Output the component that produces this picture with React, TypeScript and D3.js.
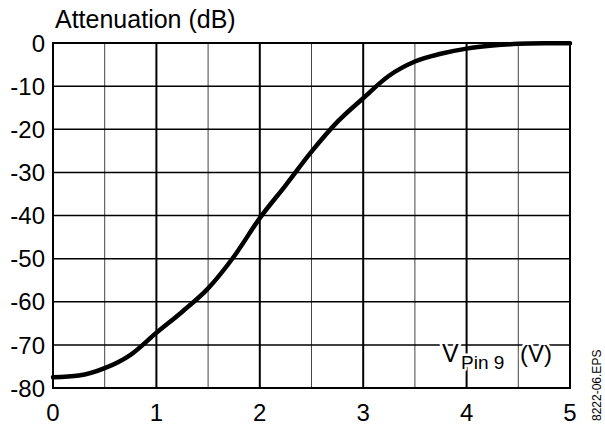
import * as d3 from 'd3'

const voltage = [0, 0.25, 0.5, 0.75, 1, 1.25, 1.5, 1.75, 2, 2.25, 2.5, 2.75, 3, 3.25, 3.5, 3.75, 4, 4.25, 4.5, 4.75, 5]
const attenuation = [-77.5, -77.1, -75.4, -72.3, -67.2, -62.3, -56.9, -49.5, -40.6, -33.0, -25.2, -18.3, -12.8, -7.6, -4.3, -2.5, -1.3, -0.6, -0.2, -0.08, -0.05]
const xTicks = [0, 1, 2, 3, 4, 5]
const xHalf = [0.5, 1.5, 2.5, 3.5, 4.5]
const yTicks = [0, -10, -20, -30, -40, -50, -60, -70, -80]

export default function App() {
  const width = 605
  const height = 428
  const margin = { top: 43, right: 35, bottom: 40, left: 53 }
  const x = d3.scaleLinear().domain([0, 5]).range([margin.left, width - margin.right])
  const y = d3.scaleLinear().domain([-80, 0]).range([height - margin.bottom, margin.top])

  const points = voltage.map((v, i) => [v, attenuation[i]] as [number, number])
  const line = d3
    .line<[number, number]>()
    .x((d) => x(d[0]))
    .y((d) => y(d[1]))
    .curve(d3.curveMonotoneX)

  const font = 'Liberation Sans, Arial, sans-serif'
  const halo = { stroke: '#fff', strokeWidth: 5, paintOrder: 'stroke' as const, strokeLinejoin: 'round' as const }

  return (
    <div style={{ position: 'absolute', left: 0, top: 0 }}>
      <svg width={width} height={height} style={{ display: 'block', background: '#fff' }} fontFamily={font}>
        {/* half-volt grid */}
        {xHalf.map((v) => (
          <line key={'h' + v} x1={x(v)} x2={x(v)} y1={y(0)} y2={y(-80)} stroke="#444" strokeWidth={1} />
        ))}
        {/* horizontal grid */}
        {yTicks.map((t) => (
          <line key={'y' + t} x1={x(0)} x2={x(5)} y1={y(t)} y2={y(t)} stroke="#000" strokeWidth={1.5} />
        ))}
        {/* integer volt grid */}
        {xTicks.map((v) => (
          <line key={'x' + v} x1={x(v)} x2={x(v)} y1={y(0)} y2={y(-80)} stroke="#000" strokeWidth={2} />
        ))}
        <rect x={x(0)} y={y(0)} width={x(5) - x(0)} height={y(-80) - y(0)} fill="none" stroke="#000" strokeWidth={2} />

        <path d={line(points) ?? ''} fill="none" stroke="#000" strokeWidth={4.5} strokeLinecap="round" strokeLinejoin="round" />

        {yTicks.map((t) => (
          <text key={'yl' + t} x={x(0) - 8} y={y(t)} dy="0.36em" textAnchor="end" fontSize={24}>
            {t}
          </text>
        ))}
        {xTicks.map((v) => (
          <text key={'xl' + v} x={x(v)} y={y(-80) + 33} textAnchor="middle" fontSize={24}>
            {v}
          </text>
        ))}

        <text x={55} y={28} fontSize={25}>Attenuation (dB)</text>

        <text x={442} y={362} fontSize={25} {...halo}>
          V
        </text>
        <text x={461} y={369} fontSize={19} {...halo}>
          Pin 9
        </text>
        <text x={520} y={362} fontSize={24} {...halo}>
          (V)
        </text>

        <text transform="translate(601,421) rotate(-90)" fontSize={12}>8222-06.EPS</text>
      </svg>
    </div>
  )
}
